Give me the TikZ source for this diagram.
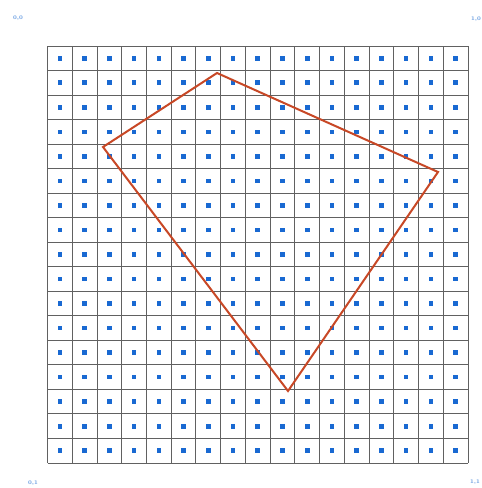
\documentclass[tikz,border=0pt]{standalone}
\begin{document}
\begin{tikzpicture}[x=1pt,y=-1pt,
  gridline/.style={draw=black!62,line width=0.9pt},
  dot/.style={fill=dotblue,minimum size=4.6pt,inner sep=0pt,outer sep=0pt},
  corner/.style={text=dotblue!75,font=\fontsize{5.5}{6}\selectfont\bfseries,inner sep=0pt},
  poly/.style={draw=polyred,line width=2pt,line join=miter}]
\definecolor{dotblue}{RGB}{25,105,210}
\definecolor{polyred}{RGB}{200,72,38}
\useasboundingbox (0,0) rectangle (482,488);
\fill[white] (0,0) rectangle (482,488);
% grid
\pgfmathsetmacro{\gx}{47.5}
\pgfmathsetmacro{\gy}{46}
\pgfmathsetmacro{\cw}{420.5/17}
\pgfmathsetmacro{\ch}{417/17}
\foreach \i in {0,...,17}{
  \draw[gridline] ({\gx+\i*\cw},\gy) -- ({\gx+\i*\cw},{\gy+17*\ch});
  \draw[gridline] (\gx,{\gy+\i*\ch}) -- ({\gx+17*\cw},{\gy+\i*\ch});
}
\foreach \i in {0,...,16}{
  \foreach \j in {0,...,16}{
    \node[dot] (d-\i-\j) at ({\gx+(\i+0.5)*\cw},{\gy+(\j+0.5)*\ch}) {};
  }
}
% polygon
\coordinate (p1) at (217,73);
\coordinate (p2) at (438,172);
\coordinate (p3) at (288,391);
\coordinate (p4) at (103,147);
\draw[poly] (p1) -- (p2) -- (p3) -- (p4) -- cycle;
% corner labels
\node[corner] (c00) at (18,18) {0,0};
\node[corner] (c10) at (476,19) {1,0};
\node[corner] (c01) at (33,483) {0,1};
\node[corner] (c11) at (475,482) {1,1};
\end{tikzpicture}
\end{document}
